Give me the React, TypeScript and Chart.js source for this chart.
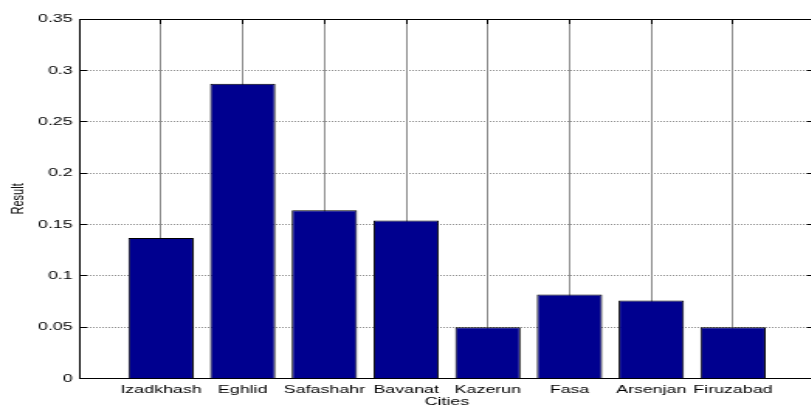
import React, { useEffect, useRef } from 'react';
import { Chart, registerables } from 'chart.js';

Chart.register(...registerables);

// Data
const cities = ['Izadkhash', 'Eghlid', 'Safashahr', 'Bavanat', 'Kazerun', 'Fasa', 'Arsenjan', 'Firuzabad'];
const results = [0.137, 0.287, 0.164, 0.154, 0.05, 0.082, 0.076, 0.05];
const yTickValues = [0, 0.05, 0.1, 0.15, 0.2, 0.25, 0.3, 0.35];

// The figure is laid out narrow and widened horizontally as a whole
const STRETCH = 1.55;
const CANVAS_W = 532;
const CANVAS_H = 408;
const FONT_FAMILY = '"Liberation Sans", Arial, Helvetica, sans-serif';
const BAR_COLOR = 'rgb(0, 0, 143)';

const px = (v: number) => Math.floor(v) + 0.5;

// MATLAB-style frame: top edge, right edge and inward tick marks
const axesFrame = {
  id: 'axesFrame',
  beforeDatasetsDraw(chart: any) {
    const { ctx, chartArea: a, scales } = chart;
    const x = scales.x;
    const y = scales.y;
    const len = 5;
    ctx.save();
    ctx.strokeStyle = '#000';
    ctx.lineWidth = 1;
    ctx.beginPath();
    ctx.moveTo(a.left, px(a.top));
    ctx.lineTo(a.right, px(a.top));
    ctx.moveTo(px(a.right), a.top);
    ctx.lineTo(px(a.right), a.bottom);
    for (const v of yTickValues) {
      const py = px(y.getPixelForValue(v));
      ctx.moveTo(a.left, py);
      ctx.lineTo(a.left + len, py);
      ctx.moveTo(a.right, py);
      ctx.lineTo(a.right - len, py);
    }
    cities.forEach((_, i) => {
      const pxv = px(x.getPixelForValue(i + 1));
      ctx.moveTo(pxv, a.top);
      ctx.lineTo(pxv, a.top + len);
      ctx.moveTo(pxv, a.bottom);
      ctx.lineTo(pxv, a.bottom - len);
    });
    ctx.stroke();
    ctx.restore();
  },
};

export default function App() {
  const canvasRef = useRef<HTMLCanvasElement | null>(null);

  useEffect(() => {
    if (!canvasRef.current) return;
    const font = { family: FONT_FAMILY, size: 11.5 };
    const chart = new Chart(canvasRef.current, {
      type: 'bar',
      data: {
        datasets: [
          {
            label: 'Result',
            data: cities.map((_, i) => ({ x: i + 1, y: results[i] })),
            backgroundColor: BAR_COLOR,
            borderColor: '#000',
            borderWidth: 1,
            barPercentage: 0.8,
            categoryPercentage: 1,
          },
        ],
      },
      options: {
        responsive: false,
        animation: false,
        events: [],
        layout: { padding: { top: 19, right: 6.4, left: 0, bottom: 0 } },
        plugins: {
          legend: { display: false },
          tooltip: { enabled: false },
        },
        scales: {
          x: {
            type: 'linear',
            offset: false,
            min: 0,
            max: cities.length + 1,
            afterBuildTicks: (s: any) => {
              s.ticks = cities.map((_, i) => ({ value: i + 1 }));
            },
            afterFit: (s: any) => {
              s.height = 29.3;
            },
            grid: { offset: false, color: '#8c8c8c', lineWidth: 1, drawTicks: false },
            border: { color: '#000', width: 1 },
            ticks: {
              color: '#000',
              font,
              padding: 4,
              autoSkip: false,
              maxRotation: 0,
              callback: (v: any) => cities[Math.round(Number(v)) - 1] ?? '',
            },
            title: {
              display: true,
              text: 'Cities',
              color: '#000',
              font: { family: FONT_FAMILY, size: 11.5, lineHeight: 1 },
              padding: { top: 0, bottom: 0 },
            },
          },
          y: {
            type: 'linear',
            min: 0,
            max: 0.35,
            afterBuildTicks: (s: any) => {
              s.ticks = yTickValues.map((v) => ({ value: v }));
            },
            afterFit: (s: any) => {
              s.width = 51.15;
            },
            grid: { color: '#8f8f8f', lineWidth: 1, drawTicks: false },
            border: { color: '#000', width: 1, dash: [1, 1] },
            ticks: {
              color: '#000',
              font,
              padding: 4.25,
              callback: (v: any) => String(Number(Number(v).toFixed(2))),
            },
            title: {
              display: true,
              text: 'Result',
              color: '#000',
              font: { family: FONT_FAMILY, size: 11, lineHeight: 1 },
              padding: { top: 6, bottom: 0 },
            },
          },
        },
      },
      plugins: [axesFrame],
    } as any);
    return () => chart.destroy();
  }, []);

  return (
    <div
      style={{
        position: 'fixed',
        left: 0,
        top: 0,
        width: 811,
        height: CANVAS_H,
        overflow: 'hidden',
        background: '#fff',
      }}
    >
      <div
        style={{
          width: CANVAS_W,
          height: CANVAS_H,
          transform: `scaleX(${STRETCH})`,
          transformOrigin: '0 0',
        }}
      >
        <canvas ref={canvasRef} width={CANVAS_W} height={CANVAS_H} />
      </div>
    </div>
  );
}
